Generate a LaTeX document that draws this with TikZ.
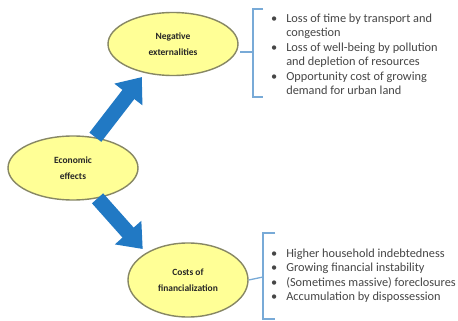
\documentclass[tikz,border=0pt]{standalone}
\usepackage{fontspec}
\setmainfont{Carlito}
\usepackage{tikz}
\usetikzlibrary{positioning}
\usetikzlibrary{shapes.geometric}
\usetikzlibrary{arrows.meta}
\definecolor{ovalfill}{RGB}{255,255,150}
\definecolor{ovaldraw}{RGB}{135,135,100}
\definecolor{arrowblue}{RGB}{33,121,196}
\definecolor{bracketblue}{RGB}{120,170,215}
\definecolor{listgray}{RGB}{70,70,70}
\tikzset{
  oval/.style={ellipse,draw=ovaldraw,fill=ovalfill,line width=1.4pt,inner sep=0pt,
    align=center,text=black!85,font=\bfseries\fontsize{9.5}{16}\selectfont},
  bigarrow/.style={arrowblue,line width=15pt,shorten >=5pt,
    -{Triangle[width=34pt,length=22pt]}},
  bracket/.style={bracketblue,line width=1.3pt},
  listtext/.style={anchor=north west,inner sep=0pt,text=listgray,
    font=\fontsize{12.3}{14.5}\selectfont}
}
\begin{document}
\begin{tikzpicture}[x=1pt,y=-1pt]
  \useasboundingbox[fill=white] (0,0) rectangle (458,321);
  \node[oval,minimum width=130pt,minimum height=63pt] (neg) at (173,44) {Negative\\externalities};
  \node[oval,minimum width=130pt,minimum height=64pt] (econ) at (73,168) {Economic\\effects};
  \node[oval,minimum width=120pt,minimum height=74pt] (fin) at (188,280) {Costs of\\financialization};
  \draw[bigarrow](econ.54)--(neg.226);
  \draw[bigarrow](econ.309)--(fin.147);
  % upper list
  \draw[bracket](263,9)--(253,9)--(253,97)--(263,97);
  \draw[bracket](253,52)--(240,52);
  \node[listtext] (neglist) at (271,12) {\begin{tabular}{@{}c@{\hspace{9pt}}l@{}}
    \textbullet & Loss of time by transport and\\
     & congestion\\
    \textbullet & Loss of well-being by pollution\\
     & and depletion of resources\\
    \textbullet & Opportunity cost of growing\\
     & demand for urban land
  \end{tabular}};
  % lower list
  \draw[bracket](275,233)--(263,233)--(263,319)--(275,319);
  \draw[bracket](263,277)--(fin.east);
  \node[listtext] (finlist) at (271,247) {\begin{tabular}{@{}c@{\hspace{9pt}}l@{}}
    \textbullet & Higher household indebtedness\\
    \textbullet & Growing financial instability\\
    \textbullet & (Sometimes massive) foreclosures\\
    \textbullet & Accumulation by dispossession
  \end{tabular}};
\end{tikzpicture}
\end{document}
